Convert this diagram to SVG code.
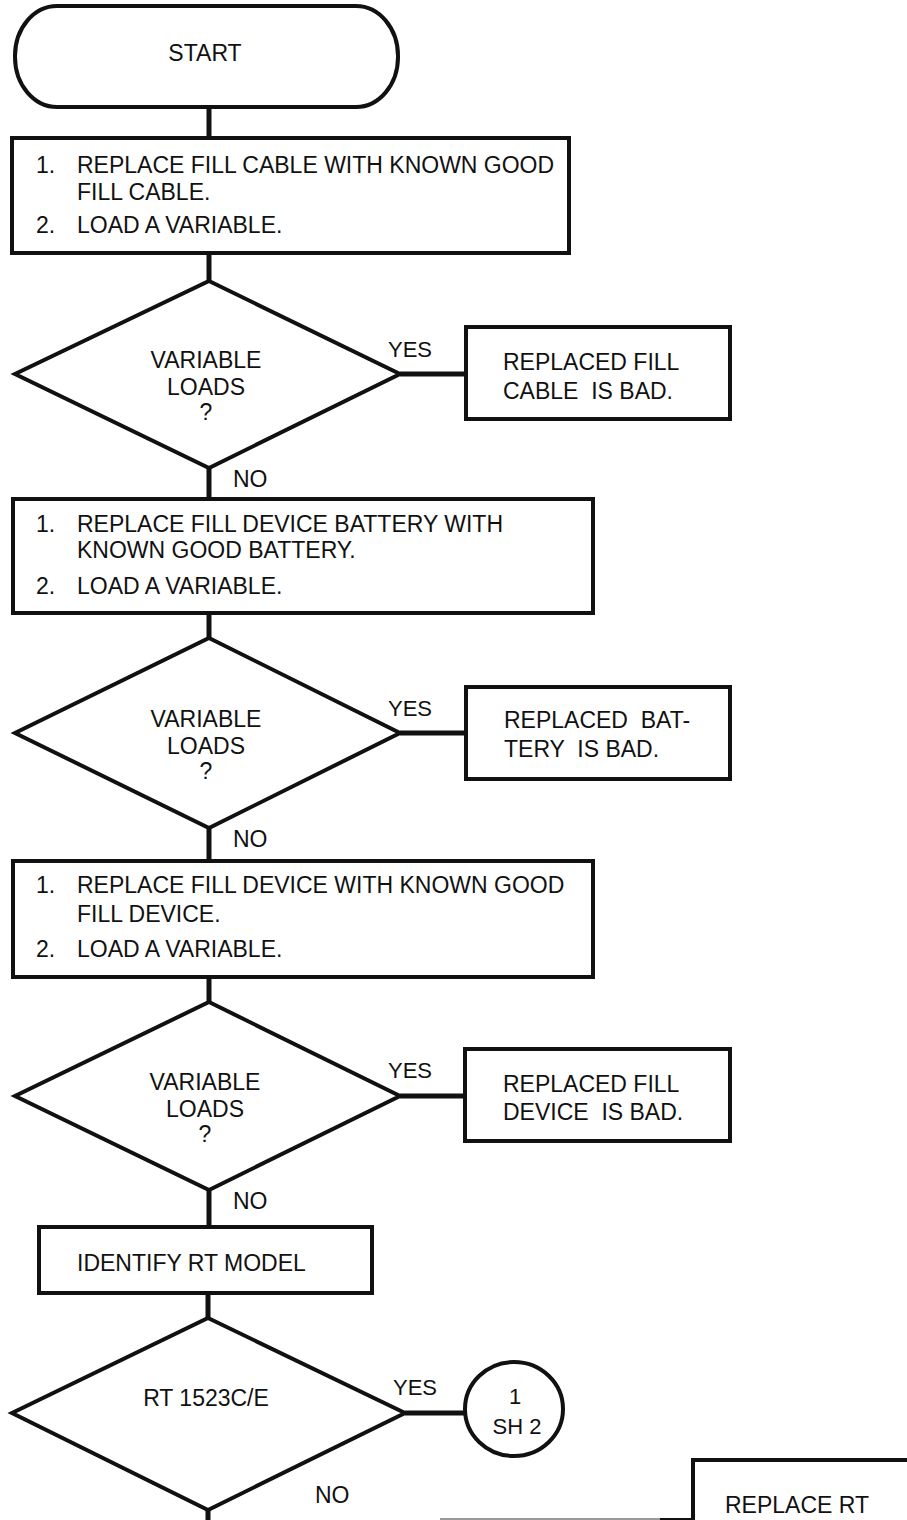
<svg xmlns="http://www.w3.org/2000/svg" width="907" height="1520" viewBox="0 0 907 1520">
<style>
text{font-family:"Liberation Sans",Arial,sans-serif;font-size:23px;fill:#111;white-space:pre}
.s{fill:none;stroke:#111;stroke-width:4;stroke-linejoin:miter}
.c{fill:none;stroke:#111;stroke-width:5}
.m{text-anchor:middle}
.l{font-size:22px}
</style>
<rect width="907" height="1520" fill="#fff"/>
<g id="connectors">
<line class="c" x1="209" y1="107" x2="209" y2="138"/>
<line class="c" x1="209" y1="253" x2="209" y2="281"/>
<line class="c" x1="209" y1="468" x2="209" y2="499"/>
<line class="c" x1="209" y1="613" x2="209" y2="638"/>
<line class="c" x1="209" y1="828" x2="209" y2="861"/>
<line class="c" x1="209" y1="977" x2="209" y2="1002"/>
<line class="c" x1="209" y1="1190" x2="209" y2="1227"/>
<line class="c" x1="208" y1="1293" x2="208" y2="1318"/>
<line class="c" x1="208" y1="1510" x2="208" y2="1520"/>
<line class="c" x1="400" y1="374" x2="466" y2="374"/>
<line class="c" x1="400" y1="733" x2="466" y2="733"/>
<line class="c" x1="400" y1="1096" x2="465" y2="1096"/>
<line class="c" x1="405" y1="1413" x2="465" y2="1413"/>
<line x1="440" y1="1519" x2="660" y2="1519" stroke="#999" stroke-width="2"/>
<line x1="660" y1="1519" x2="693" y2="1519" stroke="#111" stroke-width="2"/>
<text x="388" y="357" class="l">YES</text>
<text x="233" y="487">NO</text>
<text x="388" y="716" class="l">YES</text>
<text x="233" y="847">NO</text>
<text x="388" y="1078" class="l">YES</text>
<text x="233" y="1209">NO</text>
<text x="393" y="1395" class="l">YES</text>
<text x="315" y="1503">NO</text>
</g>
<g id="start">
<rect class="s" x="15" y="6" width="383" height="101" rx="42" ry="50"/>
<text x="205" y="61" class="m">START</text>
</g>
<g id="step1">
<rect class="s" x="12" y="138" width="557" height="115"/>
<text x="36" y="173">1.</text>
<text x="77" y="173">REPLACE FILL CABLE WITH KNOWN GOOD</text>
<text x="77" y="200">FILL CABLE.</text>
<text x="36" y="233">2.</text>
<text x="77" y="233">LOAD A VARIABLE.</text>
</g>
<g id="decision1">
<polygon class="s" points="209,281 400,374 209,468 15,374"/>
<text x="206" y="368" class="m">VARIABLE</text>
<text x="206" y="395" class="m">LOADS</text>
<text x="206" y="420" class="m">?</text>
</g>
<g id="result1">
<rect class="s" x="466" y="327" width="264" height="92"/>
<text x="503" y="370">REPLACED FILL</text>
<text x="503" y="399">CABLE  IS BAD.</text>
</g>
<g id="step2">
<rect class="s" x="13" y="499" width="580" height="114"/>
<text x="36" y="532">1.</text>
<text x="77" y="532">REPLACE FILL DEVICE BATTERY WITH</text>
<text x="77" y="558">KNOWN GOOD BATTERY.</text>
<text x="36" y="594">2.</text>
<text x="77" y="594">LOAD A VARIABLE.</text>
</g>
<g id="decision2">
<polygon class="s" points="209,638 400,733 209,828 15,733"/>
<text x="206" y="727" class="m">VARIABLE</text>
<text x="206" y="754" class="m">LOADS</text>
<text x="206" y="779" class="m">?</text>
</g>
<g id="result2">
<rect class="s" x="466" y="687" width="264" height="92"/>
<text x="504" y="728">REPLACED  BAT-</text>
<text x="504" y="757">TERY  IS BAD.</text>
</g>
<g id="step3">
<rect class="s" x="13" y="861" width="580" height="116"/>
<text x="36" y="893">1.</text>
<text x="77" y="893">REPLACE FILL DEVICE WITH KNOWN GOOD</text>
<text x="77" y="922">FILL DEVICE.</text>
<text x="36" y="957">2.</text>
<text x="77" y="957">LOAD A VARIABLE.</text>
</g>
<g id="decision3">
<polygon class="s" points="209,1002 400,1096 209,1190 15,1096"/>
<text x="205" y="1090" class="m">VARIABLE</text>
<text x="205" y="1117" class="m">LOADS</text>
<text x="205" y="1142" class="m">?</text>
</g>
<g id="result3">
<rect class="s" x="465" y="1049" width="265" height="92"/>
<text x="503" y="1092">REPLACED FILL</text>
<text x="503" y="1120">DEVICE  IS BAD.</text>
</g>
<g id="identify">
<rect class="s" x="39" y="1227" width="333" height="66"/>
<text x="77" y="1271">IDENTIFY RT MODEL</text>
</g>
<g id="decision4">
<polygon class="s" points="208,1318 405,1413 208,1510 12,1413"/>
<text x="206" y="1406" class="m">RT 1523C/E</text>
</g>
<g id="connector-sh2">
<ellipse class="s" cx="514" cy="1409" rx="49" ry="47"/>
<text x="515" y="1404" class="m l">1</text>
<text x="517" y="1434" class="m l">SH 2</text>
</g>
<g id="replace-rt">
<rect class="s" x="693" y="1460" width="260" height="100"/>
<text x="725" y="1513">REPLACE RT</text>
</g>
</svg>
